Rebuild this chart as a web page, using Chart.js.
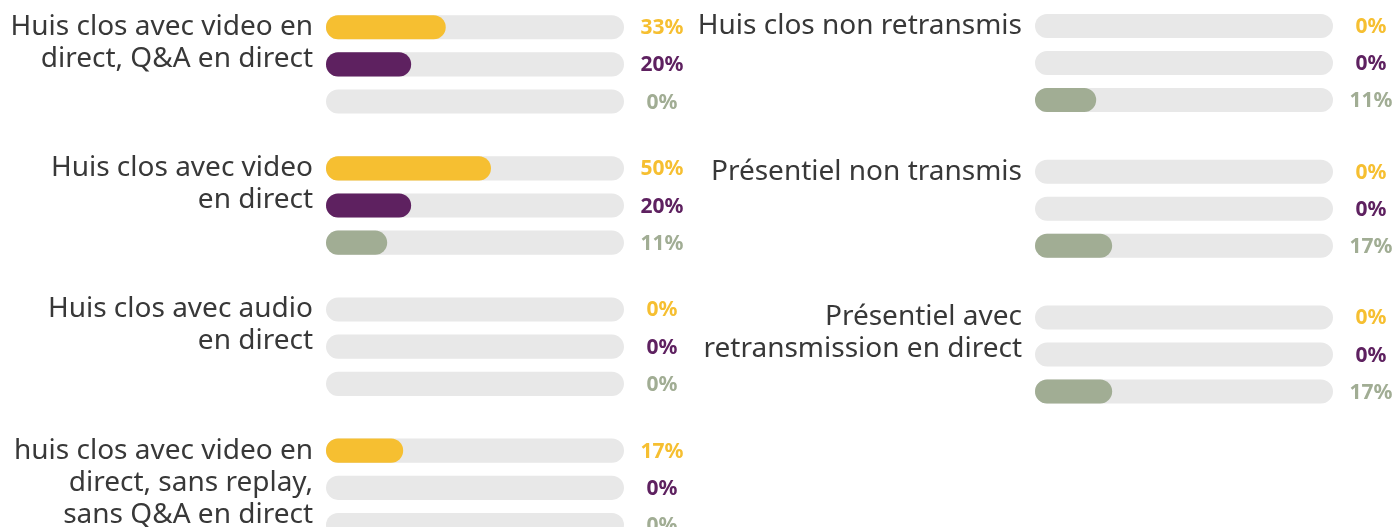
<!DOCTYPE html>
<html>
  <head>
    <meta charset="utf-8" />
    <title>Huis clos / présentiel</title>
    <style>
      body { margin: 0; background: #fff; overflow: hidden; width: 1395px; height: 527px; position: relative; }
      canvas { position: absolute; }
    </style>
  </head>
  <body>
    <canvas id="left" width="700" height="600" style="left:0;top:-20px"></canvas>
    <canvas id="right" width="698" height="600" style="left:697px;top:-20px"></canvas>
    <script src="https://cdn.jsdelivr.net/npm/chart.js@4.4.0/dist/chart.umd.min.js"></script>
    <script>
      // left block
      const leftLabels = [
        ["Huis clos avec video en", "direct, Q&A en direct"],
        ["Huis clos avec video", "en direct"],
        ["Huis clos avec audio", "en direct"],
        ["huis clos avec video en", "direct, sans replay,", "sans Q&A en direct"],
      ];
      const leftSerie1 = [33, 50, 0, 17];
      const leftSerie2 = [20, 20, 0, 0];
      const leftSerie3 = [0, 11, 0, 0];

      // right block
      const rightLabels = [
        ["Huis clos non retransmis"],
        ["Présentiel non transmis"],
        ["Présentiel avec", "retransmission en direct"],
      ];
      const rightSerie1 = [0, 0, 0];
      const rightSerie2 = [0, 0, 0];
      const rightSerie3 = [11, 17, 17];

      const colors = ["#f6bf31", "#5e2160", "#a1ad94"];
      const trackColor = "#e8e8e8";
      const axisMin = -12; // bars start a bit left of 0 so the rounded cap sits on the track start

      function pill(ctx, x, y, w, h) {
        const r = h / 2;
        ctx.beginPath();
        ctx.moveTo(x + r, y);
        ctx.lineTo(x + w - r, y);
        ctx.arc(x + w - r, y + r, r, -Math.PI / 2, Math.PI / 2);
        ctx.lineTo(x + r, y + h);
        ctx.arc(x + r, y + r, r, Math.PI / 2, Math.PI * 1.5);
        ctx.closePath();
        ctx.fill();
      }

      const decor = {
        id: "decor",
        beforeDatasetsDraw(chart) {
          const ctx = chart.ctx;
          const area = chart.chartArea;
          ctx.save();
          ctx.fillStyle = trackColor;
          chart.data.datasets.forEach((ds, d) => {
            chart.getDatasetMeta(d).data.forEach((el) => {
              pill(ctx, area.left, el.y - el.height / 2, area.right - area.left, el.height);
            });
          });
          ctx.restore();
        },
        afterDatasetsDraw(chart) {
          const ctx = chart.ctx;
          const area = chart.chartArea;
          ctx.save();
          // value labels
          ctx.font = 'bold 21px "Noto Sans"';
          ctx.textAlign = "center";
          ctx.textBaseline = "middle";
          chart.data.datasets.forEach((ds, d) => {
            ctx.fillStyle = ds.labelColor;
            chart.getDatasetMeta(d).data.forEach((el, i) => {
              ctx.fillText(ds.data[i] + "%", area.right + 38, el.y + 1);
            });
          });
          // category labels, first line level with the first bar
          ctx.font = '28px "Noto Sans"';
          ctx.textAlign = "right";
          ctx.fillStyle = "#383838";
          const first = chart.getDatasetMeta(0).data;
          chart.data.labels.forEach((lines, i) => {
            lines.forEach((line, j) => {
              ctx.fillText(line, area.left - 13, first[i].y + j * 32);
            });
          });
          ctx.restore();
        },
      };

      function makeDataset(name, data, color, catPct) {
        return {
          label: name,
          data: data,
          base: axisMin,
          labelColor: color,
          backgroundColor: (c) => (c.raw > 0 ? color : "rgba(0,0,0,0)"),
          borderRadius: 12,
          borderSkipped: false,
          categoryPercentage: catPct,
          barPercentage: 0.65,
        };
      }

      function makeChart(id, labels, s1, s2, s3, catPct, padding) {
        return new Chart(document.getElementById(id), {
          type: "bar",
          data: {
            labels: labels,
            datasets: [
              makeDataset("serie 1", s1, colors[0], catPct),
              makeDataset("serie 2", s2, colors[1], catPct),
              makeDataset("serie 3", s3, colors[2], catPct),
            ],
          },
          options: {
            indexAxis: "y",
            responsive: false,
            animation: false,
            layout: { padding: padding },
            scales: {
              x: { display: false, min: axisMin, max: 100 },
              y: { display: false },
            },
            plugins: {
              legend: { display: false },
              tooltip: { enabled: false },
            },
          },
          plugins: [decor],
        });
      }

      makeChart("left", leftLabels, leftSerie1, leftSerie2, leftSerie3, 0.79,
        { left: 326, right: 76, top: 13.8, bottom: 21.6 });
      makeChart("right", rightLabels, rightSerie1, rightSerie2, rightSerie3, 0.762,
        { left: 338, right: 62, top: 10.1, bottom: 152.6 });
    </script>
  </body>
</html>
